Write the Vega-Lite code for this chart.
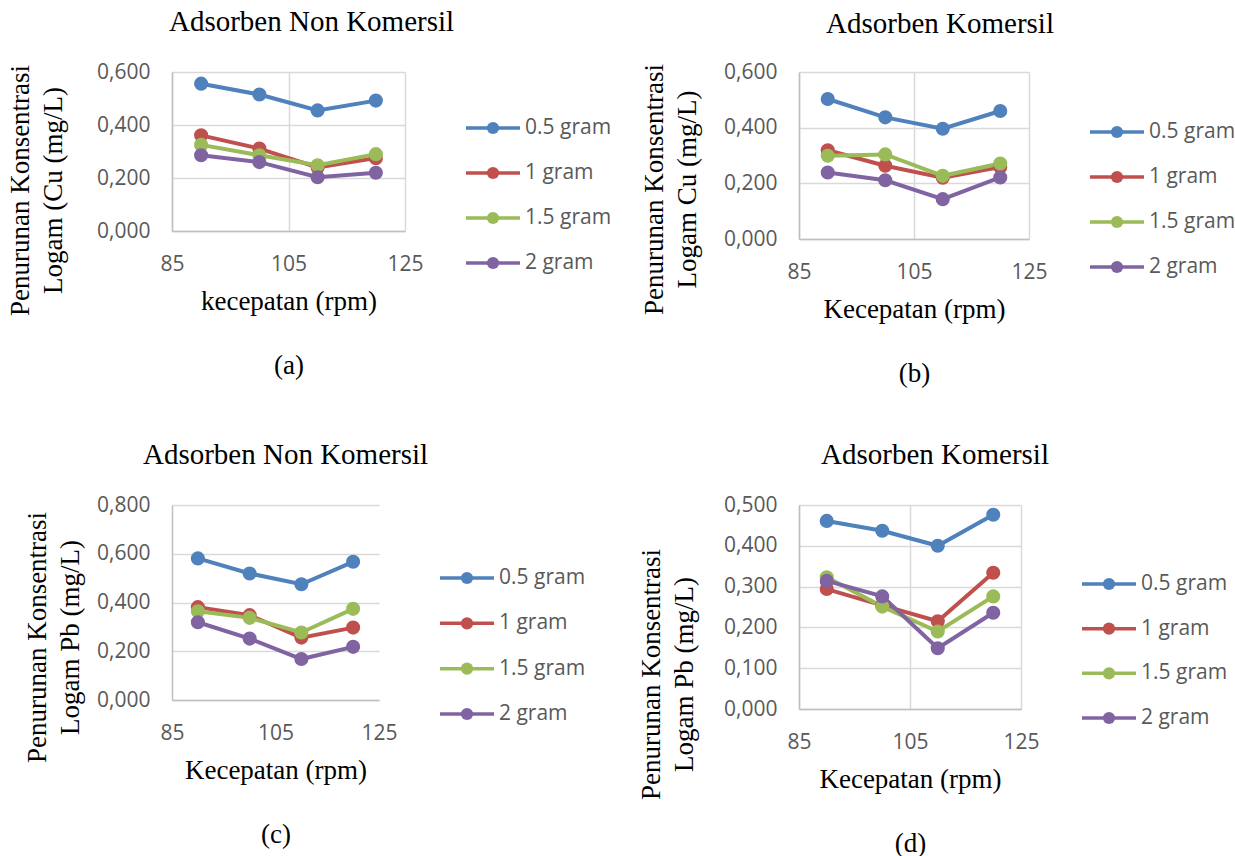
{
  "$schema": "https://vega.github.io/schema/vega-lite/v6.json",
  "background": "white",
  "padding": {"left": 6, "top": 8, "right": 0, "bottom": 0},
  "datasets": {
    "pts": [
      {"panel": "a", "dose": "0.5 gram", "rpm": 90, "value": 0.556},
      {"panel": "a", "dose": "0.5 gram", "rpm": 100, "value": 0.515},
      {"panel": "a", "dose": "0.5 gram", "rpm": 110, "value": 0.455},
      {"panel": "a", "dose": "0.5 gram", "rpm": 120, "value": 0.492},
      {"panel": "a", "dose": "1 gram", "rpm": 90, "value": 0.361},
      {"panel": "a", "dose": "1 gram", "rpm": 100, "value": 0.311},
      {"panel": "a", "dose": "1 gram", "rpm": 110, "value": 0.240},
      {"panel": "a", "dose": "1 gram", "rpm": 120, "value": 0.275},
      {"panel": "a", "dose": "1.5 gram", "rpm": 90, "value": 0.325},
      {"panel": "a", "dose": "1.5 gram", "rpm": 100, "value": 0.286},
      {"panel": "a", "dose": "1.5 gram", "rpm": 110, "value": 0.248},
      {"panel": "a", "dose": "1.5 gram", "rpm": 120, "value": 0.290},
      {"panel": "a", "dose": "2 gram", "rpm": 90, "value": 0.286},
      {"panel": "a", "dose": "2 gram", "rpm": 100, "value": 0.260},
      {"panel": "a", "dose": "2 gram", "rpm": 110, "value": 0.203},
      {"panel": "a", "dose": "2 gram", "rpm": 120, "value": 0.220},
      {"panel": "b", "dose": "0.5 gram", "rpm": 90, "value": 0.503},
      {"panel": "b", "dose": "0.5 gram", "rpm": 100, "value": 0.437},
      {"panel": "b", "dose": "0.5 gram", "rpm": 110, "value": 0.396},
      {"panel": "b", "dose": "0.5 gram", "rpm": 120, "value": 0.460},
      {"panel": "b", "dose": "1 gram", "rpm": 90, "value": 0.319},
      {"panel": "b", "dose": "1 gram", "rpm": 100, "value": 0.263},
      {"panel": "b", "dose": "1 gram", "rpm": 110, "value": 0.220},
      {"panel": "b", "dose": "1 gram", "rpm": 120, "value": 0.259},
      {"panel": "b", "dose": "1.5 gram", "rpm": 90, "value": 0.299},
      {"panel": "b", "dose": "1.5 gram", "rpm": 100, "value": 0.304},
      {"panel": "b", "dose": "1.5 gram", "rpm": 110, "value": 0.227},
      {"panel": "b", "dose": "1.5 gram", "rpm": 120, "value": 0.271},
      {"panel": "b", "dose": "2 gram", "rpm": 90, "value": 0.239},
      {"panel": "b", "dose": "2 gram", "rpm": 100, "value": 0.211},
      {"panel": "b", "dose": "2 gram", "rpm": 110, "value": 0.143},
      {"panel": "b", "dose": "2 gram", "rpm": 120, "value": 0.221},
      {"panel": "c", "dose": "0.5 gram", "rpm": 90, "value": 0.581},
      {"panel": "c", "dose": "0.5 gram", "rpm": 100, "value": 0.519},
      {"panel": "c", "dose": "0.5 gram", "rpm": 110, "value": 0.475},
      {"panel": "c", "dose": "0.5 gram", "rpm": 120, "value": 0.567},
      {"panel": "c", "dose": "1 gram", "rpm": 90, "value": 0.381},
      {"panel": "c", "dose": "1 gram", "rpm": 100, "value": 0.348},
      {"panel": "c", "dose": "1 gram", "rpm": 110, "value": 0.256},
      {"panel": "c", "dose": "1 gram", "rpm": 120, "value": 0.297},
      {"panel": "c", "dose": "1.5 gram", "rpm": 90, "value": 0.364},
      {"panel": "c", "dose": "1.5 gram", "rpm": 100, "value": 0.337},
      {"panel": "c", "dose": "1.5 gram", "rpm": 110, "value": 0.277},
      {"panel": "c", "dose": "1.5 gram", "rpm": 120, "value": 0.374},
      {"panel": "c", "dose": "2 gram", "rpm": 90, "value": 0.319},
      {"panel": "c", "dose": "2 gram", "rpm": 100, "value": 0.252},
      {"panel": "c", "dose": "2 gram", "rpm": 110, "value": 0.168},
      {"panel": "c", "dose": "2 gram", "rpm": 120, "value": 0.218},
      {"panel": "d", "dose": "0.5 gram", "rpm": 90, "value": 0.461},
      {"panel": "d", "dose": "0.5 gram", "rpm": 100, "value": 0.437},
      {"panel": "d", "dose": "0.5 gram", "rpm": 110, "value": 0.400},
      {"panel": "d", "dose": "0.5 gram", "rpm": 120, "value": 0.476},
      {"panel": "d", "dose": "1 gram", "rpm": 90, "value": 0.294},
      {"panel": "d", "dose": "1 gram", "rpm": 100, "value": 0.254},
      {"panel": "d", "dose": "1 gram", "rpm": 110, "value": 0.215},
      {"panel": "d", "dose": "1 gram", "rpm": 120, "value": 0.334},
      {"panel": "d", "dose": "1.5 gram", "rpm": 90, "value": 0.323},
      {"panel": "d", "dose": "1.5 gram", "rpm": 100, "value": 0.251},
      {"panel": "d", "dose": "1.5 gram", "rpm": 110, "value": 0.190},
      {"panel": "d", "dose": "1.5 gram", "rpm": 120, "value": 0.276},
      {"panel": "d", "dose": "2 gram", "rpm": 90, "value": 0.314},
      {"panel": "d", "dose": "2 gram", "rpm": 100, "value": 0.276},
      {"panel": "d", "dose": "2 gram", "rpm": 110, "value": 0.149},
      {"panel": "d", "dose": "2 gram", "rpm": 120, "value": 0.236}
    ]
  },
  "config": {
    "view": {"stroke": null},
    "axis": {
      "labelFont": "Open Sans",
      "labelFontSize": 21,
      "labelColor": "#595959",
      "labelPadding": 22,
      "ticks": false,
      "domainColor": "#bfbfbf",
      "domainWidth": 1.5,
      "gridColor": "#d9d9d9",
      "gridWidth": 1.5,
      "titleFont": "Liberation Serif",
      "titleFontSize": 27,
      "titleFontWeight": "normal",
      "titleColor": "black"
    },
    "axisX": {"titleLineHeight": 64, "titlePadding": 14, "labelFlush": false},
    "axisY": {"titleLineHeight": 33, "titleAngle": -90, "titleAlign": "center", "titleBaseline": "bottom", "labelExpr": "replace(format(datum.value, '.3f'), '.', ',')"},
    "text": {"font": "Open Sans", "fontSize": 21, "color": "#595959", "align": "left", "baseline": "middle"},
    "title": {"font": "Liberation Serif", "fontSize": 29, "fontWeight": "normal", "color": "black", "anchor": "middle", "frame": "group"}
  },
  "bounds": "flush",
  "spacing": 433,
  "vconcat": [
    {
      "bounds": "flush",
      "spacing": 61,
      "hconcat": [
        {
          "width": 233, "height": 159,
          "title": {"text": "Adsorben Non Komersil", "dx": 23, "offset": 24},
          "data": {"name": "pts"},
          "transform": [{"filter": "datum.panel == 'a'"}],
          "encoding": {
            "x": {"field": "rpm", "type": "quantitative", "scale": {"domain": [85, 125], "nice": false, "zero": false},
                  "axis": {"values": [85, 105, 125], "title": ["kecepatan (rpm)", "(a)"]}},
            "y": {"field": "value", "type": "quantitative", "scale": {"domain": [0, 0.6], "nice": false},
                  "axis": {"values": [0, 0.2, 0.4, 0.6], "title": ["Penurunan Konsentrasi", "Logam (Cu (mg/L)"], "titleX": -138, "titleY": 118}},
            "color": {"field": "dose", "type": "nominal", "legend": null, "scale": {"domain": ["0.5 gram", "1 gram", "1.5 gram", "2 gram"], "range": ["#4F81BD", "#C0504D", "#9BBB59", "#8064A2"]}}
          },
          "layer": [
            {"mark": {"type": "line", "strokeWidth": 4}},
            {"mark": {"type": "point", "filled": true, "size": 200, "opacity": 1}}
          ]
        },
        {
          "width": 272, "height": 247,
          "data": {"name": "pts"},
          "transform": [{"filter": "datum.panel == 'a'"}, {"aggregate": [{"op": "count", "as": "n"}], "groupby": ["dose"]}],
          "encoding": {
            "y": {"field": "dose", "type": "nominal", "axis": null, "scale": {"type": "point", "domain": ["0.5 gram", "1 gram", "1.5 gram", "2 gram"], "range": [56, 191], "padding": 0}},
            "color": {"field": "dose", "type": "nominal", "legend": null, "scale": {"domain": ["0.5 gram", "1 gram", "1.5 gram", "2 gram"], "range": ["#4F81BD", "#C0504D", "#9BBB59", "#8064A2"]}}
          },
          "layer": [
            {"mark": {"type": "rule", "strokeWidth": 3.5},
             "encoding": {"x": {"datum": 0, "type": "quantitative", "scale": {"domain": [0, 272], "nice": false, "zero": false}, "axis": null}, "x2": {"datum": 54}}},
            {"mark": {"type": "point", "filled": true, "size": 150, "opacity": 1},
             "encoding": {"x": {"datum": 27, "type": "quantitative"}}},
            {"mark": {"type": "text", "color": "#595959"},
             "encoding": {"x": {"datum": 59, "type": "quantitative"}, "text": {"field": "dose"}, "color": {"value": "#595959"}}}
          ]
        },
        {
          "width": 230, "height": 167,
          "title": {"text": "Adsorben Komersil", "dx": 26, "offset": 22},
          "data": {"name": "pts"},
          "transform": [{"filter": "datum.panel == 'b'"}],
          "encoding": {
            "x": {"field": "rpm", "type": "quantitative", "scale": {"domain": [85, 125], "nice": false, "zero": false},
                  "axis": {"values": [85, 105, 125], "title": ["Kecepatan (rpm)", "(b)"]}},
            "y": {"field": "value", "type": "quantitative", "scale": {"domain": [0, 0.6], "nice": false},
                  "axis": {"values": [0, 0.2, 0.4, 0.6], "title": ["Penurunan Konsentrasi", "Logam Cu (mg/L)"], "titleX": -131, "titleY": 117}},
            "color": {"field": "dose", "type": "nominal", "legend": null, "scale": {"domain": ["0.5 gram", "1 gram", "1.5 gram", "2 gram"], "range": ["#4F81BD", "#C0504D", "#9BBB59", "#8064A2"]}}
          },
          "layer": [
            {"mark": {"type": "line", "strokeWidth": 4}},
            {"mark": {"type": "point", "filled": true, "size": 200, "opacity": 1}}
          ]
        },
        {
          "width": 150, "height": 255,
          "data": {"name": "pts"},
          "transform": [{"filter": "datum.panel == 'b'"}, {"aggregate": [{"op": "count", "as": "n"}], "groupby": ["dose"]}],
          "encoding": {
            "y": {"field": "dose", "type": "nominal", "axis": null, "scale": {"type": "point", "domain": ["0.5 gram", "1 gram", "1.5 gram", "2 gram"], "range": [60, 195], "padding": 0}},
            "color": {"field": "dose", "type": "nominal", "legend": null, "scale": {"domain": ["0.5 gram", "1 gram", "1.5 gram", "2 gram"], "range": ["#4F81BD", "#C0504D", "#9BBB59", "#8064A2"]}}
          },
          "layer": [
            {"mark": {"type": "rule", "strokeWidth": 3.5},
             "encoding": {"x": {"datum": 0, "type": "quantitative", "scale": {"domain": [0, 150], "nice": false, "zero": false}, "axis": null}, "x2": {"datum": 54}}},
            {"mark": {"type": "point", "filled": true, "size": 150, "opacity": 1},
             "encoding": {"x": {"datum": 27, "type": "quantitative"}}},
            {"mark": {"type": "text", "color": "#595959"},
             "encoding": {"x": {"datum": 59, "type": "quantitative"}, "text": {"field": "dose"}, "color": {"value": "#595959"}}}
          ]
        }
      ]
    },
    {
      "bounds": "flush",
      "spacing": 61,
      "hconcat": [
        {
          "width": 207, "height": 195,
          "title": {"text": "Adsorben Non Komersil", "dx": 10, "offset": 24},
          "data": {"name": "pts"},
          "transform": [{"filter": "datum.panel == 'c'"}],
          "encoding": {
            "x": {"field": "rpm", "type": "quantitative", "scale": {"domain": [85, 125], "nice": false, "zero": false},
                  "axis": {"values": [85, 105, 125], "grid": false, "title": ["Kecepatan (rpm)", "(c)"]}},
            "y": {"field": "value", "type": "quantitative", "scale": {"domain": [0, 0.8], "nice": false},
                  "axis": {"values": [0, 0.2, 0.4, 0.6, 0.8], "title": ["Penurunan Konsentrasi", "Logam Pb (mg/L)"], "titleX": -121, "titleY": 132}},
            "color": {"field": "dose", "type": "nominal", "legend": null, "scale": {"domain": ["0.5 gram", "1 gram", "1.5 gram", "2 gram"], "range": ["#4F81BD", "#C0504D", "#9BBB59", "#8064A2"]}}
          },
          "layer": [
            {"mark": {"type": "line", "strokeWidth": 4}},
            {"mark": {"type": "point", "filled": true, "size": 200, "opacity": 1}}
          ]
        },
        {
          "width": 298, "height": 281,
          "data": {"name": "pts"},
          "transform": [{"filter": "datum.panel == 'c'"}, {"aggregate": [{"op": "count", "as": "n"}], "groupby": ["dose"]}],
          "encoding": {
            "y": {"field": "dose", "type": "nominal", "axis": null, "scale": {"type": "point", "domain": ["0.5 gram", "1 gram", "1.5 gram", "2 gram"], "range": [73, 209], "padding": 0}},
            "color": {"field": "dose", "type": "nominal", "legend": null, "scale": {"domain": ["0.5 gram", "1 gram", "1.5 gram", "2 gram"], "range": ["#4F81BD", "#C0504D", "#9BBB59", "#8064A2"]}}
          },
          "layer": [
            {"mark": {"type": "rule", "strokeWidth": 3.5},
             "encoding": {"x": {"datum": 0, "type": "quantitative", "scale": {"domain": [0, 298], "nice": false, "zero": false}, "axis": null}, "x2": {"datum": 54}}},
            {"mark": {"type": "point", "filled": true, "size": 150, "opacity": 1},
             "encoding": {"x": {"datum": 27, "type": "quantitative"}}},
            {"mark": {"type": "text", "color": "#595959"},
             "encoding": {"x": {"datum": 59, "type": "quantitative"}, "text": {"field": "dose"}, "color": {"value": "#595959"}}}
          ]
        },
        {
          "width": 222, "height": 204,
          "title": {"text": "Adsorben Komersil", "dx": 25, "offset": 24},
          "data": {"name": "pts"},
          "transform": [{"filter": "datum.panel == 'd'"}],
          "encoding": {
            "x": {"field": "rpm", "type": "quantitative", "scale": {"domain": [85, 125], "nice": false, "zero": false},
                  "axis": {"values": [85, 105, 125], "title": ["Kecepatan (rpm)", "(d)"]}},
            "y": {"field": "value", "type": "quantitative", "scale": {"domain": [0, 0.5], "nice": false},
                  "axis": {"values": [0, 0.1, 0.2, 0.3, 0.4, 0.5], "title": ["Penurunan Konsentrasi", "Logam  Pb (mg/L)"], "titleX": -134, "titleY": 169}},
            "color": {"field": "dose", "type": "nominal", "legend": null, "scale": {"domain": ["0.5 gram", "1 gram", "1.5 gram", "2 gram"], "range": ["#4F81BD", "#C0504D", "#9BBB59", "#8064A2"]}}
          },
          "layer": [
            {"mark": {"type": "line", "strokeWidth": 4}},
            {"mark": {"type": "point", "filled": true, "size": 200, "opacity": 1}}
          ]
        },
        {
          "width": 150, "height": 292,
          "data": {"name": "pts"},
          "transform": [{"filter": "datum.panel == 'd'"}, {"aggregate": [{"op": "count", "as": "n"}], "groupby": ["dose"]}],
          "encoding": {
            "y": {"field": "dose", "type": "nominal", "axis": null, "scale": {"type": "point", "domain": ["0.5 gram", "1 gram", "1.5 gram", "2 gram"], "range": [79, 213], "padding": 0}},
            "color": {"field": "dose", "type": "nominal", "legend": null, "scale": {"domain": ["0.5 gram", "1 gram", "1.5 gram", "2 gram"], "range": ["#4F81BD", "#C0504D", "#9BBB59", "#8064A2"]}}
          },
          "layer": [
            {"mark": {"type": "rule", "strokeWidth": 3.5},
             "encoding": {"x": {"datum": 0, "type": "quantitative", "scale": {"domain": [0, 150], "nice": false, "zero": false}, "axis": null}, "x2": {"datum": 54}}},
            {"mark": {"type": "point", "filled": true, "size": 150, "opacity": 1},
             "encoding": {"x": {"datum": 27, "type": "quantitative"}}},
            {"mark": {"type": "text", "color": "#595959"},
             "encoding": {"x": {"datum": 59, "type": "quantitative"}, "text": {"field": "dose"}, "color": {"value": "#595959"}}}
          ]
        }
      ]
    }
  ]
}
